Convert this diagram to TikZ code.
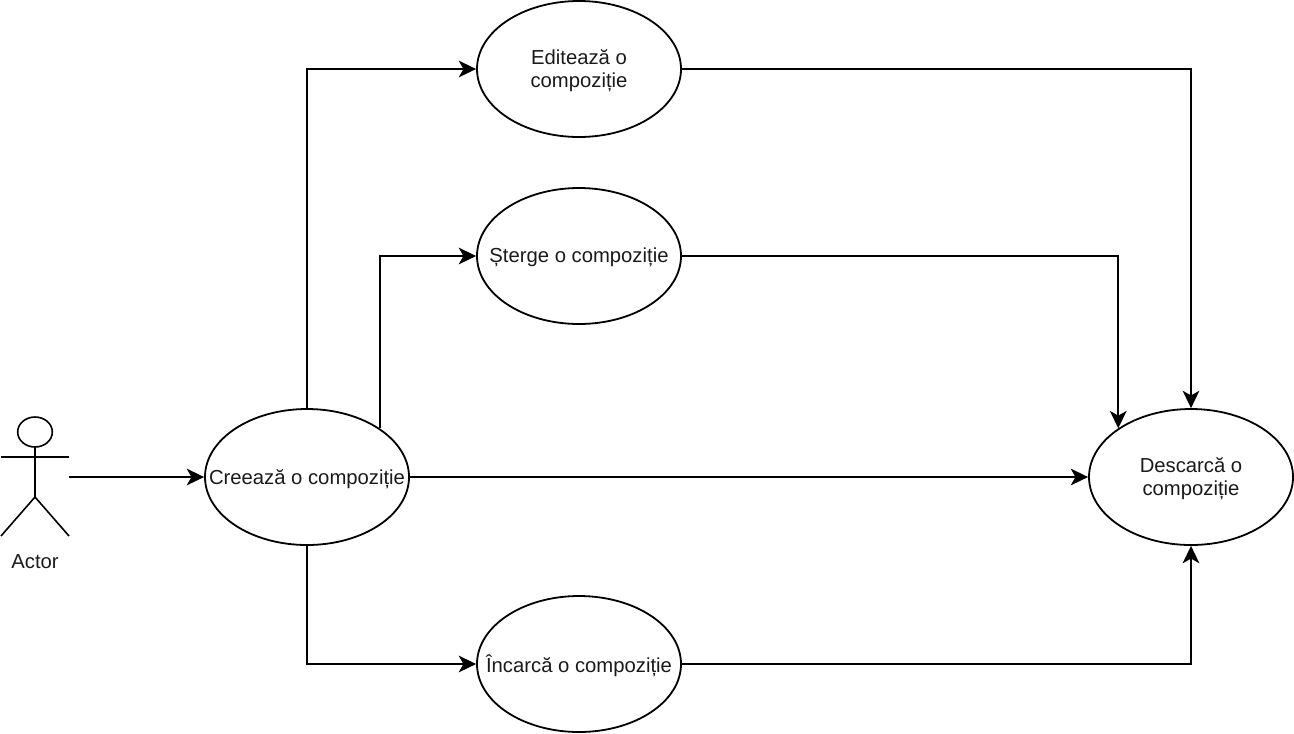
\documentclass[tikz,border=0pt]{standalone}
\usepackage{fontspec}
\setmainfont{Liberation Sans}
\usetikzlibrary{shapes.geometric,arrows.meta}
\definecolor{labelgray}{HTML}{1A1A1A}
\tikzset{
  usecase/.style={ellipse,draw=black,line width=1.35pt,fill=white,minimum width=153pt,minimum height=102pt,inner sep=0pt},
  casetext/.style={align=center,text=labelgray,inner sep=0pt,yshift=-1.3pt,font=\fontsize{15.2}{17.6}\selectfont},
  conn/.style={draw=black,line width=1.4pt,-{Stealth[length=13pt,width=12.5pt,inset=3.5pt]}},
  stick/.style={draw=black,line width=1.2pt},
  actorlabel/.style={text=labelgray,inner sep=0pt,font=\fontsize{15.2}{17.6}\selectfont}
}
\begin{document}
\begin{tikzpicture}[x=0.75pt,y=-0.75pt]
\useasboundingbox (0,0) rectangle (1294,733);
\node[usecase,label={[casetext]center:Editează o\\compoziție}] (ed) at (579,69) {};
\node[usecase,label={[casetext]center:Șterge o compoziție}] (st) at (579,256) {};
\node[usecase,label={[casetext]center:Creează o compoziție}] (cr) at (307,477) {};
\node[usecase,label={[casetext]center:Încarcă o compoziție}] (in) at (579,664) {};
\node[usecase,label={[casetext]center:Descarcă o\\compoziție}] (de) at (1191,477) {};
% actor
\node[ellipse,stick,minimum width=26pt,minimum height=22.5pt,inner sep=0pt] (head) at (35,432) {};
\coordinate (hip) at (35,497);
\coordinate (armL) at (1,457);
\coordinate (armR) at (69,457);
\coordinate (legL) at (1,536);
\coordinate (legR) at (69,536);
\coordinate (actorOut) at (69,477);
\draw[stick] (head.south) -- (hip);
\draw[stick] (armL) -- (armR);
\draw[stick] (legL) -- (hip) -- (legR);
\node[actorlabel] (actor) at (35,561.5) {Actor};
% connectors
\draw[conn] (actorOut) -- (cr.west);
\draw[conn] (cr.north) |- (ed.west);
\draw[conn] (cr.north east) |- (st.west);
\draw[conn] (cr.east) -- (de.west);
\draw[conn] (cr.south) |- (in.west);
\draw[conn] (ed.east) -| (de.north);
\draw[conn] (st.east) -| (de.north west);
\draw[conn] (in.east) -| (de.south);
\end{tikzpicture}
\end{document}
